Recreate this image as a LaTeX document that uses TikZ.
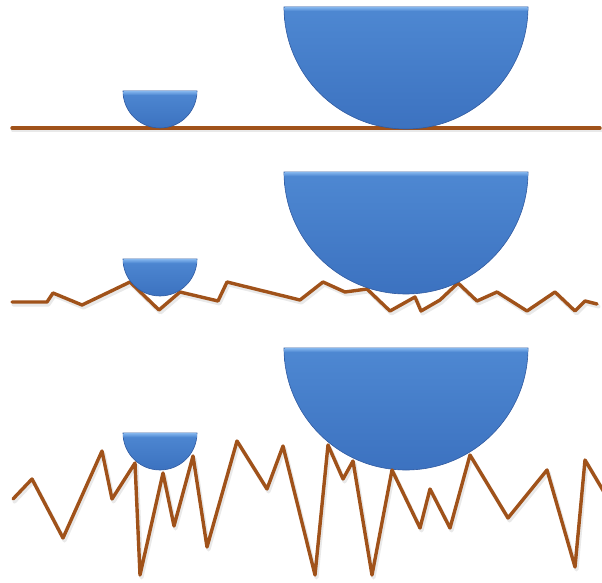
\documentclass[tikz,border=0pt]{standalone}
\begin{document}
\begin{tikzpicture}[x=1pt,y=-1pt,
  ground/.style={draw=groundc,line width=3.4pt,line join=round,line cap=round},
  groundshadow/.style={draw=black!25,line width=4pt,line join=round,line cap=round,opacity=0.35},
  cup/.style={top color=cuptop,bottom color=cupbot,draw=cupedge,line width=0.6pt}]
\definecolor{groundc}{RGB}{160,82,26}
\definecolor{cuptop}{RGB}{78,136,210}
\definecolor{cupbot}{RGB}{60,114,192}
\definecolor{cupedge}{RGB}{48,90,160}
\definecolor{cupband}{RGB}{125,176,234}
\useasboundingbox (0,0) rectangle (602,583);
\newcommand{\halfdisc}[3]{% cx, top, r
  \shade[cup] (#1-#3,#2) -- (#1+#3,#2) arc[start angle=0,end angle=-180,radius=#3 pt] -- cycle;
  \shade[top color=cupband,bottom color=cuptop] (#1-#3+0.5,#2+0.5) rectangle (#1+#3-0.5,#2+4);
}
% panel 1
\draw[groundshadow] (13,130.5) -- (601,130.5);
\draw[ground] (12,128) -- (600,128);
\halfdisc{160}{91}{37}
\halfdisc{406}{7}{122}
% panel 2
\def\ptwo{(12,302) -- (47,302) -- (53,293) -- (82,305) -- (130,282) -- (159,310) -- (180,292) -- (218,301) -- (227,282) -- (300,300) -- (323,282) -- (345,292) -- (367,289) -- (390,311) -- (415,297) -- (421,311) -- (440,300) -- (458,283) -- (477,301) -- (497,292) -- (527,311) -- (555,292) -- (575,311) -- (585,301) -- (597,304)}
\begin{scope}[shift={(1.5,2.5)}]
\draw[groundshadow] \ptwo;
\end{scope}
\draw[ground] \ptwo;
\halfdisc{160}{259}{37}
\halfdisc{406}{172}{122}
% panel 3
\def\pthree{(13,499) -- (32,479) -- (63,538) -- (102,451) -- (112,499) -- (135,463) -- (140,575) -- (163,473) -- (174,526) -- (193,456) -- (207,547) -- (237,441) -- (267,489) -- (283,446) -- (315,575) -- (328,445) -- (343,479) -- (353,461) -- (372,575) -- (392,470) -- (420,528) -- (430,489) -- (450,528) -- (470,455) -- (508,518) -- (547,470) -- (575,567) -- (585,460) -- (604,492)}
\halfdisc{160}{433}{37}
\halfdisc{406}{348}{122}
\begin{scope}[shift={(1.5,2.5)}]
\draw[groundshadow] \pthree;
\end{scope}
\draw[ground] \pthree;
\end{tikzpicture}
\end{document}
